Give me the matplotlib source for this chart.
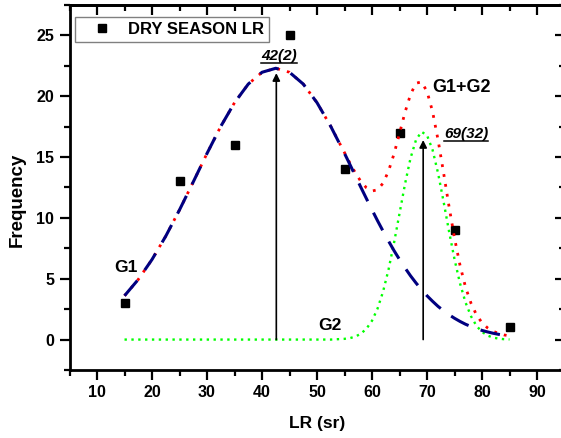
import numpy as np
import matplotlib
matplotlib.use('Agg')
import matplotlib.pyplot as plt
from matplotlib.ticker import MultipleLocator
from matplotlib.lines import Line2D

# measured points (dry season lidar ratio histogram)
lr_obs = [15, 25, 35, 45, 55, 65, 75, 85]
freq_obs = [3, 13, 16, 25, 14, 17, 9, 1]

fit_lr = np.r_[np.arange(15, 55.1, 2.5), np.arange(56, 86)]

g1_fit = [3.60, 4.94, 6.58, 8.50, 10.66, 12.96, 15.30, 17.52, 19.47, 21.00,
          21.97, 22.30, 21.97, 21.00, 19.47, 17.52, 15.30,
          14.37, 13.43, 12.49, 11.57, 10.66, 9.77, 8.92, 8.10, 7.31, 6.58,
          5.89, 5.24, 4.65, 4.10, 3.60, 3.15, 2.73, 2.37, 2.04, 1.75,
          1.49, 1.26, 1.07, 0.90, 0.75, 0.63, 0.52, 0.43, 0.35, 0.29]

g2_fit = [0.00, 0.00, 0.00, 0.00, 0.00, 0.00, 0.00, 0.00, 0.00, 0.00,
          0.00, 0.00, 0.00, 0.00, 0.00, 0.00, 0.06,
          0.12, 0.25, 0.49, 0.90, 1.55, 2.54, 3.93, 5.75, 7.95, 10.37,
          12.79, 14.91, 16.42, 17.08, 16.79, 15.60, 13.69, 11.36, 8.90, 6.59,
          4.61, 3.05, 1.91, 1.12, 0.63, 0.33, 0.16, 0.08, 0.03, 0.01]

sum_fit = [3.60, 4.94, 6.58, 8.50, 10.66, 12.96, 15.30, 17.52, 19.47, 21.00,
           21.97, 22.30, 21.97, 21.00, 19.47, 17.52, 15.36,
           14.49, 13.68, 12.98, 12.47, 12.21, 12.31, 12.85, 13.85, 15.26, 16.95,
           18.68, 20.15, 21.07, 21.18, 20.39, 18.75, 16.42, 13.73, 10.94, 8.34,
           6.10, 4.31, 2.98, 2.02, 1.38, 0.96, 0.68, 0.51, 0.38, 0.30]

peak_lr = [42.6, 69.3]
peak_height = [21.9, 16.4]
peak_labels = ['42(2)', '69(32)']


def subrayar(fig, texto, renderer):
    bb = texto.get_window_extent(renderer).transformed(fig.transFigure.inverted())
    fig.add_artist(Line2D([bb.x0, bb.x1], [bb.y0, bb.y0], transform=fig.transFigure,
                          color='black', lw=1.1))


def main():
    plt.rcParams['font.family'] = 'Liberation Sans'
    plt.rcParams['font.weight'] = 'bold'

    fig = plt.figure(figsize=(5.61, 4.38), dpi=100)
    ax = fig.add_axes([0.1239, 0.1553, 0.8824, 0.8333])

    ax.plot(lr_obs, freq_obs, 's', color='black', markersize=5.5, zorder=2,
            label='DRY SEASON LR')
    ax.plot(fit_lr, sum_fit, color='red', lw=2.0, linestyle=(0, (1, 2.6)), zorder=3)
    ax.plot(fit_lr, g2_fit, color='#00ff00', lw=1.7, linestyle=(0, (1, 1.9)), zorder=3.5)
    ax.plot(fit_lr, g1_fit, color='#000080', lw=2.2, linestyle=(0, (6.5, 4.2)), zorder=4)

    for x, h in zip(peak_lr, peak_height):
        ax.annotate('', xy=(x, h), xytext=(x, 0),
                    arrowprops=dict(arrowstyle='-|>', color='black', lw=1.2,
                                    mutation_scale=11, shrinkA=0, shrinkB=0),
                    zorder=5)

    ax.text(15.3, 5.9, 'G1', fontsize=12.5, ha='center', va='center')
    ax.text(52.4, 1.15, 'G2', fontsize=12.5, ha='center', va='center')
    ax.text(76.2, 20.7, 'G1+G2', fontsize=13, ha='center', va='center')
    t1 = ax.text(43.1, 23.3, peak_labels[0], fontsize=11, style='italic',
                 ha='center', va='center')
    t2 = ax.text(77.1, 16.9, peak_labels[1], fontsize=11, style='italic',
                 ha='center', va='center')

    ax.set_xlim(5, 95)
    ax.set_ylim(-2.5, 27.5)
    ax.xaxis.set_major_locator(MultipleLocator(10))
    ax.xaxis.set_minor_locator(MultipleLocator(5))
    ax.yaxis.set_major_locator(MultipleLocator(5))
    ax.yaxis.set_minor_locator(MultipleLocator(2.5))
    ax.set_xticks(range(10, 91, 10))
    ax.set_yticks(range(0, 26, 5))

    ax.tick_params(which='major', direction='out', length=7, width=1.6,
                   labelsize=11.5, pad=4)
    ax.tick_params(which='minor', direction='out', length=4, width=1.6)
    for s in ax.spines.values():
        s.set_linewidth(2.0)

    arriba = ax.secondary_xaxis('top')
    arriba.xaxis.set_major_locator(MultipleLocator(10))
    arriba.xaxis.set_minor_locator(MultipleLocator(5))
    arriba.tick_params(which='major', direction='in', length=7, width=1.6, labeltop=False)
    arriba.tick_params(which='minor', direction='in', length=4, width=1.6)
    arriba.spines['top'].set_linewidth(2.0)

    derecha = ax.secondary_yaxis('right')
    derecha.yaxis.set_major_locator(MultipleLocator(5))
    derecha.yaxis.set_minor_locator(MultipleLocator(2.5))
    derecha.tick_params(which='major', direction='in', length=7, width=1.6, labelright=False)
    derecha.tick_params(which='minor', direction='in', length=4, width=1.6)
    derecha.spines['right'].set_linewidth(2.0)

    for lab in ax.get_xticklabels() + ax.get_yticklabels():
        lab.set_fontweight('bold')

    ax.set_xlabel('LR (sr)', fontsize=12.5, fontweight='bold', va='center')
    ax.xaxis.set_label_coords(0.501, -0.148)
    ax.set_ylabel('Frequency', fontsize=13.5, fontweight='bold', va='center')
    ax.yaxis.set_label_coords(-0.105, 0.466)

    leg = ax.legend(loc='upper left', bbox_to_anchor=(0.011, 0.968), borderaxespad=0,
                    numpoints=1, handlelength=2.6, handletextpad=0.3, borderpad=0.3,
                    fancybox=False, framealpha=1, edgecolor='#808080',
                    prop={'weight': 'bold', 'size': 12})
    leg.get_frame().set_linewidth(1.0)

    fig.canvas.draw()
    renderer = fig.canvas.get_renderer()
    subrayar(fig, t1, renderer)
    subrayar(fig, t2, renderer)

    fig.savefig('out.png', dpi=100)


if __name__ == '__main__':
    main()
